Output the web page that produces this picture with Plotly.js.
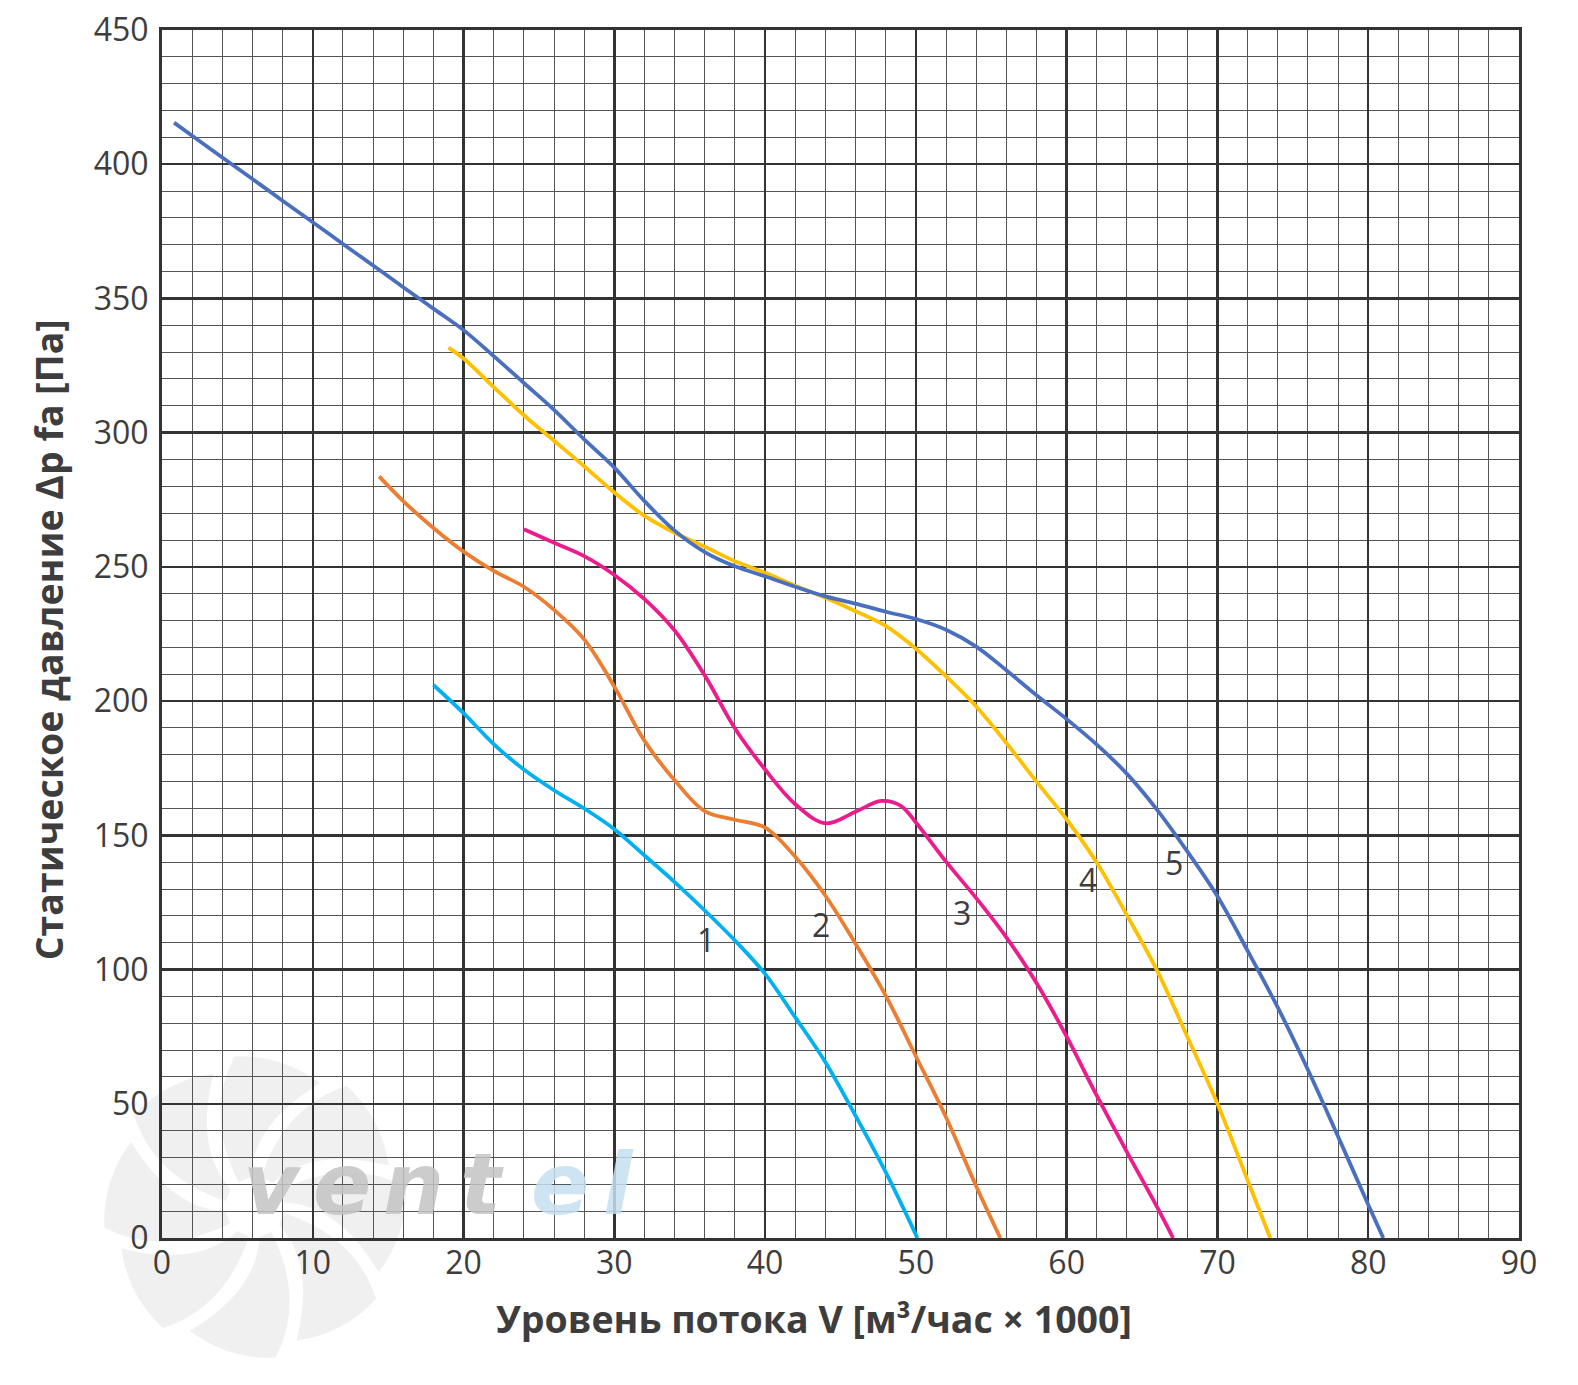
<!DOCTYPE html>
<html>
<head>
<meta charset="utf-8">
<script src="https://cdn.plot.ly/plotly-3.0.1.min.js"></script>
<style>
  html, body { margin: 0; padding: 0; background: #fff; }
  #chart { width: 1578px; height: 1385px; }
</style>
</head>
<body>
<div id="chart"></div>
<script>
// fan curves, flow in 1000 m3/h, static pressure in Pa
var curve1X = [18.0, 20, 22, 24, 26, 28, 30, 32, 34, 36, 38, 40, 42, 44, 46, 48, 50.1];
var curve1Y = [206, 195.5, 184, 174.5, 166.8, 160, 152.3, 142.5, 132.6, 122, 110.8, 98.4, 82.2, 65.5, 45.5, 24.5, 0];

var curve2X = [14.4, 16, 18, 20, 22, 24, 26, 28, 30, 32, 34, 36, 38, 40, 42, 44, 46, 48, 50, 52, 54, 55.6];
var curve2Y = [283.7, 274.5, 264.5, 255.7, 248.5, 242.6, 234, 223, 205.4, 185.2, 170.5, 159, 155.8, 152.9, 142, 127.5, 109.6, 90.3, 67.7, 45, 19.3, 0];

var curve3X = [24.0, 26, 28, 30, 32, 34, 36, 38, 40, 42, 44, 46, 47.7, 49, 50, 52, 54, 56, 58, 60, 62, 64, 66, 67.06];
var curve3Y = [264, 259, 254, 247, 238, 226.3, 209.5, 189.8, 174.5, 161.6, 154.5, 158.8, 162.8, 161, 154.8, 140.2, 126.6, 112, 95, 75, 53, 32, 11.5, 0];

var curve4X = [19.0, 20, 22, 24, 26, 28, 30, 32, 34, 36, 38, 40, 42, 44, 46, 48, 50, 52, 54, 56, 58, 60, 62, 64, 66, 68, 70, 72, 73.5];
var curve4Y = [331.7, 327.6, 317, 306.5, 297, 287.5, 277.7, 269, 262.7, 257.5, 252.1, 247.8, 243, 238.5, 233.5, 228, 219.5, 209.2, 198, 184.4, 170, 155.9, 139.8, 120.2, 99.6, 75, 50, 21.5, 0];

var curve5X = [0.8, 2, 4, 6, 8, 10, 12, 14, 16, 18, 20, 22, 24, 26, 28, 30, 32, 34, 36, 38, 40, 42, 44, 46, 48, 50, 52, 54, 56, 58, 60, 62, 64, 66, 68, 70, 72, 74, 76, 78, 80, 81.0];
var curve5Y = [415.5, 410.6, 402.5, 394.5, 386.4, 378.4, 370.3, 362.3, 354.2, 346.2, 338.2, 328.5, 318.5, 308.5, 297.5, 287, 274.5, 263.5, 255.5, 250.2, 246.5, 242.6, 239, 236.3, 233.3, 230.6, 226.6, 220.3, 211.5, 202.2, 193.3, 183.8, 172.9, 159.5, 144, 127.3, 107, 85.9, 62.7, 37.8, 12.4, 0];

var curveColors = ['#00B0F0', '#ED7D31', '#EC1C8C', '#FFC000', '#4A6FBE'];

// curve number labels
var labelText = ['1', '2', '3', '4', '5'];
var labelX = [36.1, 43.7, 53.05, 61.4, 67.1];
var labelY = [111.3, 116.6, 121.2, 133.7, 139.8];

// watermark letters
var logoLetters = ['v', 'e', 'n', 't', 'e', 'l'];
var logoColors = ['#c4c4c4', '#c4c4c4', '#c4c4c4', '#c4c4c4', '#c6e0f2', '#c6e0f2'];
var logoPx = [272, 342, 413, 482, 560, 618];

var curvesX = [curve1X, curve2X, curve3X, curve4X, curve5X];
var curvesY = [curve1Y, curve2Y, curve3Y, curve4Y, curve5Y];

var traces = curvesX.map(function (xs, i) {
    return {
        x: xs,
        y: curvesY[i],
        type: 'scatter',
        mode: 'lines',
        line: {color: curveColors[i], width: 3.8, shape: 'spline', smoothing: 1.0},
        hoverinfo: 'x+y'
    };
});

var tickFont = {family: 'Open Sans, sans-serif', size: 32, color: '#3d3d3d'};
var titleFont = {family: 'Open Sans, sans-serif', size: 37.5, color: '#3d3d3d', weight: 700};

var annotations = labelText.map(function (t, i) {
    return {
        x: labelX[i], y: labelY[i], xref: 'x', yref: 'y',
        text: t, showarrow: false,
        font: {family: 'Open Sans, sans-serif', size: 32, color: '#3d3d3d'}
    };
});

annotations.push({
    xref: 'paper', yref: 'paper', x: 0.4805, y: -0.067,
    text: 'Уровень потока V [м³/час × 1000]', showarrow: false,
    xanchor: 'center', yanchor: 'middle', font: titleFont
});
annotations.push({
    xref: 'paper', yref: 'paper', x: -0.0838, y: 0.495,
    text: 'Статическое давление Δp fa [Па]', showarrow: false, textangle: -90,
    xanchor: 'center', yanchor: 'middle', font: titleFont
});

// faint watermark logo (pixel -> paper)
function px(v) { return (v - 162) / 1357; }
function py(v) { return (1238 - v) / 1208; }

logoLetters.forEach(function (ch, i) {
    annotations.push({
        xref: 'paper', yref: 'paper', x: px(logoPx[i]), y: py(1184),
        text: ch, showarrow: false, xanchor: 'center', yanchor: 'middle',
        font: {family: 'DejaVu Sans, sans-serif', size: 86, color: logoColors[i], weight: 700, style: 'italic'},
        opacity: 0.85
    });
});

var shapes = [];
var cx = 255, cy = 1207, rIn = 30, rOut = 152;
function pt(r, ang) { return px(cx + r * Math.cos(ang)).toFixed(4) + ',' + py(cy + r * Math.sin(ang)).toFixed(4); }
for (var b = 0; b < 8; b++) {
    var a = b * Math.PI / 4 + 0.2;
    var w = 0.62, sw = 0.45;
    var path = 'M' + pt(rIn, a) +
        ' Q' + pt(rOut * 0.7, a + sw * 0.2) + ' ' + pt(rOut, a + sw) +
        ' Q' + pt(rOut * 1.02, a + sw + w * 0.5) + ' ' + pt(rOut * 0.92, a + sw + w) +
        ' Q' + pt(rOut * 0.55, a + w * 0.9) + ' ' + pt(rIn, a + w * 0.7) + ' Z';
    shapes.push({
        type: 'path', xref: 'paper', yref: 'paper', path: path,
        fillcolor: '#ececec', line: {width: 0}, layer: 'below', opacity: 0.8
    });
}

var layout = {
    width: 1578,
    height: 1385,
    margin: {l: 162, r: 59, t: 30, b: 147},
    paper_bgcolor: 'rgba(255,255,255,0)',
    plot_bgcolor: 'rgba(255,255,255,0)',
    showlegend: false,
    xaxis: {
        range: [0, 90], tick0: 0, dtick: 10,
        showgrid: true, gridcolor: '#333333', gridwidth: 2.5,
        minor: {dtick: 2, showgrid: true, gridcolor: '#555555', gridwidth: 1},
        showline: true, linecolor: '#333333', linewidth: 3, mirror: true,
        zeroline: false, ticks: '', ticklabelstandoff: -5,
        tickfont: tickFont, fixedrange: true
    },
    yaxis: {
        range: [0, 450], tick0: 0, dtick: 50,
        showgrid: true, gridcolor: '#333333', gridwidth: 2.5,
        minor: {dtick: 10, showgrid: true, gridcolor: '#555555', gridwidth: 1},
        showline: true, linecolor: '#333333', linewidth: 3, mirror: true,
        zeroline: false, ticks: 'outside', ticklen: 4, tickcolor: 'rgba(0,0,0,0)',
        tickfont: tickFont, fixedrange: true
    },
    annotations: annotations,
    shapes: shapes
};

Plotly.newPlot('chart', traces, layout, {displayModeBar: false, staticPlot: true});
</script>
</body>
</html>
